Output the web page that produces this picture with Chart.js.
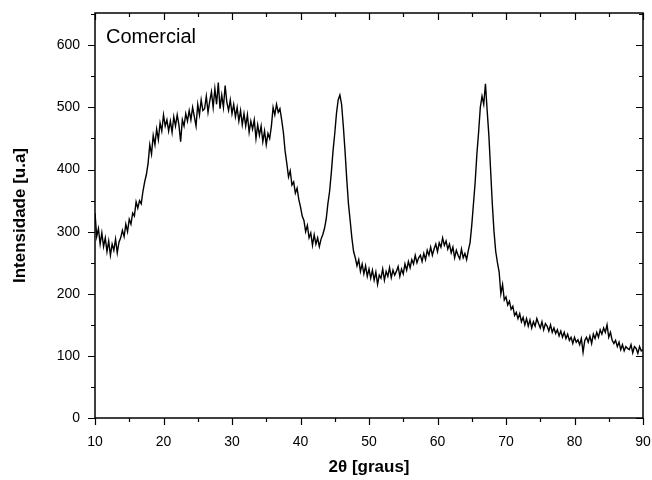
<!DOCTYPE html>
<html>
<head>
<meta charset="utf-8">
<script src="https://cdn.jsdelivr.net/npm/chart.js@4.4.1/dist/chart.umd.min.js"></script>
<style>
  html, body { margin: 0; padding: 0; background: #fff; overflow: hidden; }
  #xrd { display: block; }
</style>
</head>
<body>
<canvas id="xrd" width="652" height="480"></canvas>
<script>
// 2theta sampling of the scan
const angleStart = 10;
const angleStep = 0.25;

// intensity, 4 points per degree (10 .. 90)
const intensity = [
  330, 292, 305, 280,  298, 276, 290, 268,  285, 262, 280, 270,  288, 266, 283, 290, // 10-13
  302, 292, 312, 300,  320, 312, 330, 325,  348, 338, 350, 345,  365, 380, 392, 410, // 14-17
  440, 425, 455, 440,  465, 448, 475, 462,  488, 470, 480, 462,  478, 460, 485, 470, // 18-21
  488, 472, 445, 480,  470, 490, 478, 495,  480, 500, 485, 470,  505, 488, 512, 495, // 22-25
  498, 518, 492, 510,  525, 500, 530, 505,  540, 498, 520, 500,  535, 508, 495, 512, // 26-29
  490, 505, 485, 500,  478, 495, 472, 490,  470, 488, 460, 478,  465, 480, 450, 472, // 30-33
  455, 470, 445, 462,  440, 458, 450, 470,  500, 488, 505, 492,  498, 480, 460, 430, // 34-37
  410, 388, 398, 375,  380, 362, 370, 352,  340, 325, 318, 300,  310, 290, 298, 278, // 38-41
  295, 280, 290, 276,  288, 295, 305, 320,  345, 365, 395, 430,  458, 490, 512, 520, // 42-45
  505, 470, 430, 385,  345, 318, 290, 268,  258, 245, 255, 236,  248, 232, 245, 228, // 46-49
  240, 225, 238, 222,  235, 215, 230, 225,  240, 222, 236, 228,  242, 226, 238, 230, // 50-53
  236, 244, 228, 240,  232, 248, 238, 252,  242, 255, 248, 262,  250, 258, 262, 252, // 54-57
  265, 255, 270, 262,  275, 262, 272, 280,  268, 282, 275, 290,  278, 285, 272, 280, // 58-61
  266, 275, 258, 270,  262, 256, 272, 258,  265, 255, 270, 282,  310, 345, 380, 425, // 62-65
  460, 500, 518, 505,  538, 495, 455, 400,  345, 300, 268, 250,  235, 200, 215, 190, // 66-69
  195, 182, 188, 175,  180, 165, 170, 160,  168, 155, 162, 150,  160, 148, 158, 145, // 70-73
  155, 148, 160, 152,  145, 155, 142, 152,  148, 140, 150, 138,  145, 136, 142, 132, // 74-77
  140, 130, 138, 128,  135, 125, 130, 120,  130, 122, 126, 118,  128, 106, 125, 130, // 78-81
  122, 132, 120, 135,  128, 138, 130, 142,  135, 145, 138, 150,  130, 138, 125, 120, // 82-85
  125, 115, 122, 110,  118, 108, 115, 112,  110, 118, 105, 115,  112, 104, 115, 108, // 86-89
  110                                                                                  // 90
];

const xTicks = [10, 20, 30, 40, 50, 60, 70, 80, 90];
const xMinor = [15, 25, 35, 45, 55, 65, 75, 85];
const yTicks = [0, 100, 200, 300, 400, 500, 600];
const yMinor = [50, 150, 250, 350, 450, 550, 650];

const points = intensity.map((v, i) => ({ x: angleStart + i * angleStep, y: v }));

const fontFam = "'Liberation Sans', Arial, sans-serif";

// frame, mirrored ticks and sample label
const framePlugin = {
  id: "frame",
  afterDraw(chart) {
    const { ctx, chartArea: a, scales } = chart;
    const xs = scales.x, ys = scales.y;
    ctx.save();
    ctx.strokeStyle = "#000";
    ctx.lineWidth = 1.5;
    ctx.strokeRect(a.left, a.top, a.right - a.left, a.bottom - a.top);

    ctx.lineWidth = 1.2;
    ctx.beginPath();
    const xt = (v, len) => {
      const px = Math.round(xs.getPixelForValue(v)) + 0.5;
      ctx.moveTo(px, a.bottom); ctx.lineTo(px, a.bottom + len);
      ctx.moveTo(px, a.top); ctx.lineTo(px, a.top + len);
    };
    const yt = (v, len) => {
      const py = Math.round(ys.getPixelForValue(v)) + 0.5;
      if (py < a.top) return;
      ctx.moveTo(a.left, py); ctx.lineTo(a.left - len, py);
      ctx.moveTo(a.right, py); ctx.lineTo(a.right - len, py);
    };
    xTicks.forEach(v => xt(v, 7));
    xMinor.forEach(v => xt(v, 4));
    yTicks.forEach(v => yt(v, 7));
    yMinor.forEach(v => yt(v, 4));
    ctx.stroke();

    ctx.fillStyle = "#000";
    ctx.font = "20px " + fontFam;
    ctx.textBaseline = "alphabetic";
    ctx.fillText("Comercial", a.left + 11, a.top + 30);
    ctx.restore();
  }
};

new Chart(document.getElementById("xrd"), {
  type: "line",
  data: {
    datasets: [{
      data: points,
      borderColor: "#000",
      borderWidth: 1.4,
      pointRadius: 0,
      tension: 0,
      fill: false
    }]
  },
  options: {
    responsive: false,
    animation: false,
    layout: { autoPadding: false, padding: { top: 13, right: 9, left: 0, bottom: 0 } },
    plugins: { legend: { display: false }, tooltip: { enabled: false } },
    scales: {
      x: {
        type: "linear",
        min: 10,
        max: 90,
        grid: { display: false },
        border: { display: false },
        ticks: {
          stepSize: 10,
          padding: 8,
          maxRotation: 0,
          color: "#000",
          font: { family: fontFam, size: 14 }
        },
        title: {
          display: true,
          text: "2θ [graus]",
          color: "#000",
          font: { family: fontFam, size: 17, weight: "bold" },
          padding: { top: 2, bottom: 2 }
        },
        afterFit(scale) {
          scale.height = 62;
          scale.paddingLeft = 0;
          scale.paddingRight = 0;
        }
      },
      y: {
        min: 0,
        max: 652,
        grid: { display: false },
        border: { display: false },
        ticks: {
          stepSize: 100,
          includeBounds: false,
          padding: 7,
          color: "#000",
          font: { family: fontFam, size: 14 }
        },
        title: {
          display: true,
          text: "Intensidade [u.a]",
          color: "#000",
          font: { family: fontFam, size: 17, weight: "bold" },
          padding: { top: 10, bottom: 0 }
        },
        afterFit(scale) {
          scale.width = 95;
          scale.paddingTop = 0;
          scale.paddingBottom = 0;
        }
      }
    }
  },
  plugins: [framePlugin]
});
</script>
</body>
</html>
